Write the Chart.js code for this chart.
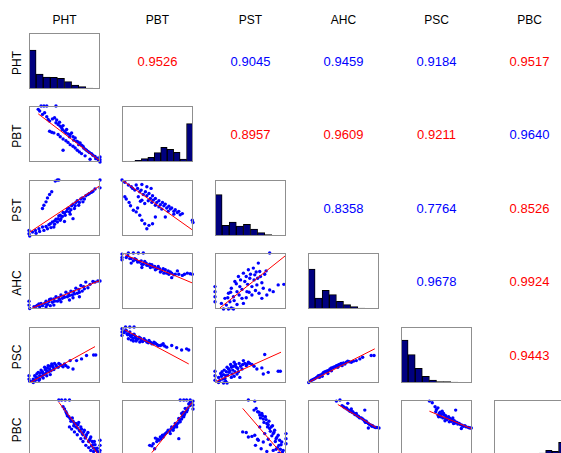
<!DOCTYPE html>
<html>
<head>
<meta charset="utf-8">
<script src="https://cdn.jsdelivr.net/npm/chart.js@4.4.0/dist/chart.umd.min.js"></script>
<style>
  body { margin: 0; width: 561px; height: 453px; overflow: hidden; background: #fff; position: relative;
         font-family: "Liberation Sans", Arial, sans-serif; }
  canvas { position: absolute; }
  .lbl { position: absolute; font-size: 12px; line-height: 12px; color: #000; white-space: nowrap; }
  .corr { position: absolute; font-size: 13px; line-height: 13px; white-space: nowrap; }
</style>
</head>
<body>
<script>
  const names = ['PHT', 'PBT', 'PST', 'AHC', 'PSC', 'PBC']

  // histogram bar heights (all panels share one height scale, panel top = 168)
  const histPHT = [117, 45, 36, 35, 32, 22, 12, 7, 3, 2]
  const histPBT = [0, 2, 5, 10, 14, 28, 44, 38, 29, 9, 115]
  const histPST = [124, 32, 42, 30, 35, 21, 10, 4, 1, 0]
  const histAHC = [120, 33, 56, 43, 23, 13, 7, 3, 1, 0]
  const histPSC = [129, 85, 44, 20, 9, 4, 4, 3, 2, 2]
  const histPBC = [0, 0, 0, 0, 0, 1, 3, 9, 17, 14, 41]

  // signed correlation coefficients, upper triangle, row by row
  const corrPHT = [-0.9526, 0.9045, 0.9459, 0.9184, -0.9517]
  const corrPBT = [-0.8957, -0.9609, -0.9211, 0.9640]
  const corrPST = [0.8358, 0.7764, -0.8526]
  const corrAHC = [0.9678, -0.9924]
  const corrPSC = [-0.9443]

  // scatter points, each panel scaled 0..1 on both axes  [x, y]
  const pbtPht = [[0.13,0.94],[0.15,0.91],[0.17,1.0],[0.21,1.0],[0.25,1.0],[0.38,1.0],[0.19,0.85],[0.25,0.81],
    [0.29,0.73],[0.36,0.79],[0.39,0.75],[0.41,0.67],[0.43,0.71],[0.46,0.61],[0.48,0.65],[0.50,0.55],[0.53,0.58],
    [0.58,0.49],[0.60,0.52],[0.65,0.43],[0.67,0.37],[0.72,0.34],[0.76,0.28],[0.79,0.23],[0.83,0.19],[0.88,0.15],
    [0.93,0.10],[0.96,0.07],[1.0,0.04],[1.0,0.0],[1.0,0.09],[0.29,0.55],[0.35,0.52],[0.41,0.49],[0.48,0.41],
    [0.55,0.35],[0.62,0.28],[0.68,0.21],[0.74,0.15],[0.79,0.11],[0.48,0.21],[0.86,0.05],
    [0.33,0.77],[0.38,0.70],[0.44,0.64],[0.47,0.58],[0.52,0.52],[0.55,0.50],[0.57,0.45],[0.62,0.45],[0.63,0.39],
    [0.69,0.36],[0.70,0.31],[0.74,0.30],[0.77,0.25],[0.81,0.21],[0.85,0.17],[0.90,0.12],[0.94,0.06],[0.32,0.53],
    [0.44,0.45],[0.52,0.38],[0.58,0.31],[0.65,0.25],[0.71,0.18],[0.98,0.03],[0.22,0.88],[0.27,0.76]]
  const pstPht = [[0,0.10],[0,0.04],[0.01,0],[0.05,0.07],[0.09,0.10],[0.14,0.13],[0.19,0.16],[0.21,0.10],[0.26,0.13],
    [0.28,0.20],[0.33,0.25],[0.35,0.16],[0.38,0.30],[0.40,0.25],[0.42,0.36],[0.45,0.31],[0.48,0.42],[0.51,0.37],
    [0.54,0.48],[0.57,0.43],[0.60,0.54],[0.64,0.49],[0.66,0.60],[0.70,0.55],[0.73,0.66],[0.76,0.61],[0.80,0.72],
    [0.85,0.76],[0.90,0.80],[0.50,0.26],[0.62,0.31],[0.19,0.49],[0.21,0.55],[0.24,0.61],[0.26,0.68],[0.29,0.74],
    [0.32,0.79],[0.37,0.98],[0.40,1.0],[0.42,1.0],[1.0,1.0],[1.0,0.86],
    [0.30,0.22],[0.36,0.27],[0.41,0.31],[0.44,0.37],[0.47,0.35],[0.50,0.41],[0.53,0.44],[0.56,0.50],[0.59,0.47],
    [0.62,0.57],[0.65,0.54],[0.68,0.63],[0.71,0.60],[0.75,0.68],[0.78,0.66],[0.83,0.74],[0.88,0.78],[0.93,0.84],
    [0.10,0.05],[0.15,0.08],[0.24,0.17],[0.31,0.15],[0.44,0.28],[0.36,0.21],[0.58,0.39]]
  const pstPbt = [[0,1.0],[0.04,0.96],[0.09,0.91],[0.13,0.88],[0.20,0.91],[0.28,0.92],[0.35,0.88],[0.41,0.85],
    [0.18,0.82],[0.25,0.79],[0.30,0.74],[0.35,0.72],[0.40,0.67],[0.44,0.64],[0.49,0.60],[0.54,0.56],[0.59,0.54],
    [0.63,0.50],[0.68,0.48],[0.73,0.44],[0.78,0.42],[0.82,0.38],[0.23,0.70],[0.28,0.64],[0.32,0.58],[0.04,0.70],
    [0.06,0.66],[0.12,0.54],[0.16,0.46],[0.20,0.43],[0.25,0.37],[0.28,0.28],[0.32,0.22],[0.38,0.19],[0.43,0.22],
    [0.35,0.13],[0.47,0.34],[0.61,0.34],[0.99,0.28],[1.0,0.24],
    [0.15,0.85],[0.22,0.85],[0.27,0.82],[0.33,0.79],[0.38,0.76],[0.43,0.72],[0.47,0.67],[0.52,0.63],[0.57,0.60],
    [0.61,0.57],[0.66,0.53],[0.70,0.50],[0.75,0.47],[0.80,0.44],[0.85,0.40],[0.42,0.60],[0.37,0.63],[0.47,0.55],
    [0.52,0.52],[0.56,0.48],[0.65,0.44],[0.73,0.39],[0.26,0.62],[0.10,0.60],[0.22,0.50]]
  const ahcPht = [[0,0.14],[0,0.07],[0.01,0.01],[0.07,0.04],[0.12,0.07],[0.17,0.10],[0.19,0.06],[0.24,0.14],
    [0.26,0.08],[0.31,0.18],[0.33,0.12],[0.38,0.22],[0.40,0.14],[0.45,0.25],[0.47,0.19],[0.52,0.30],[0.54,0.22],
    [0.59,0.32],[0.61,0.25],[0.66,0.37],[0.68,0.28],[0.73,0.42],[0.75,0.32],[0.80,0.48],[0.83,0.38],[0.90,0.49],
    [0.97,0.50],[1.0,0.50],[0.24,0.04],[0.35,0.07],[0.57,0.16],[0.71,0.22],
    [0.10,0.05],[0.14,0.09],[0.22,0.10],[0.28,0.13],[0.29,0.17],[0.35,0.18],[0.36,0.14],[0.42,0.20],[0.43,0.17],
    [0.49,0.23],[0.50,0.21],[0.56,0.27],[0.57,0.24],[0.63,0.31],[0.64,0.27],[0.70,0.35],[0.71,0.30],[0.77,0.40],
    [0.78,0.36],[0.86,0.44],[0.93,0.48],[0.15,0.04],[0.30,0.06],[0.45,0.13],[0.62,0.20]]
  const ahcPbt = [[0,0.98],[0,0.92],[0,0.88],[0.09,1.0],[0.16,1.0],[0.23,1.0],[0.30,1.0],[0.06,0.92],[0.11,0.90],
    [0.16,0.86],[0.20,0.88],[0.25,0.84],[0.30,0.80],[0.32,0.85],[0.37,0.78],[0.42,0.79],[0.44,0.75],[0.49,0.72],
    [0.51,0.76],[0.56,0.68],[0.61,0.70],[0.63,0.64],[0.68,0.66],[0.73,0.61],[0.78,0.68],[0.80,0.62],[0.85,0.60],
    [0.92,0.64],[0.99,0.62],[0.70,0.56],[0.13,0.82],[0.28,0.74],
    [0.08,0.95],[0.13,0.90],[0.18,0.90],[0.22,0.84],[0.27,0.86],[0.28,0.80],[0.34,0.82],[0.35,0.78],[0.39,0.80],
    [0.40,0.74],[0.46,0.76],[0.47,0.70],[0.53,0.72],[0.54,0.66],[0.58,0.72],[0.59,0.64],[0.65,0.68],[0.66,0.62],
    [0.70,0.64],[0.75,0.62],[0.88,0.62],[0.96,0.63]]
  const ahcPst = [[0,0.40],[0,0.31],[0,0.22],[0,0.13],[0.12,0],[0.19,0],[0.26,0],[0.09,0.10],[0.14,0.19],[0.16,0.07],
    [0.19,0.28],[0.21,0.13],[0.23,0.37],[0.26,0.22],[0.28,0.49],[0.31,0.31],[0.33,0.58],[0.35,0.40],[0.38,0.19],
    [0.40,0.64],[0.42,0.49],[0.45,0.31],[0.47,0.70],[0.49,0.55],[0.52,0.25],[0.54,0.73],[0.56,0.61],[0.59,0.43],
    [0.61,0.82],[0.63,0.67],[0.66,0.19],[0.68,0.37],[0.73,0.25],[0.77,1.0],[0.77,0.34],[0.82,0.31],[0.89,0.43],
    [0.97,0.44],[0.40,0.10],[0.23,0.02],
    [0.30,0.45],[0.36,0.52],[0.38,0.35],[0.44,0.58],[0.46,0.44],[0.50,0.62],[0.52,0.40],[0.55,0.52],[0.58,0.66],
    [0.60,0.55],[0.64,0.58],[0.66,0.47],[0.70,0.62],[0.48,0.30],[0.34,0.25],[0.27,0.15],[0.31,0.08],[0.44,0.20],
    [0.57,0.33],[0.62,0.28],[0.72,0.68],[0.18,0.20],[0.22,0.30]]
  const pscPht = [[0,0.13],[0,0.07],[0.01,0.03],[0.06,0.07],[0.08,0.13],[0.10,0.10],[0.13,0.19],[0.15,0.13],
    [0.17,0.23],[0.20,0.17],[0.22,0.28],[0.25,0.22],[0.27,0.31],[0.29,0.25],[0.32,0.34],[0.34,0.28],[0.36,0.35],
    [0.39,0.29],[0.42,0.35],[0.46,0.31],[0.50,0.34],[0.55,0.28],[0.58,0.40],[0.62,0.25],[0.67,0.40],[0.74,0.43],
    [0.81,0.49],[0.91,0.50],[0.94,0.50],[0.15,0.07],[0.25,0.13],[0.06,0.01],
    [0.05,0.03],[0.09,0.05],[0.11,0.16],[0.12,0.09],[0.14,0.05],[0.16,0.18],[0.18,0.12],[0.19,0.20],[0.21,0.15],
    [0.23,0.24],[0.24,0.18],[0.26,0.27],[0.28,0.20],[0.30,0.30],[0.31,0.22],[0.33,0.31],[0.35,0.24],[0.38,0.32],
    [0.41,0.28],[0.44,0.33],[0.20,0.09],[0.30,0.15],[0.48,0.29],[0.52,0.31]]
  const pscPbt = [[0,0.97],[0,0.91],[0,0.85],[0.05,1.0],[0.11,1.0],[0.17,1.0],[0.04,0.93],[0.07,0.88],[0.11,0.91],
    [0.13,0.83],[0.17,0.87],[0.20,0.79],[0.24,0.82],[0.27,0.76],[0.31,0.79],[0.35,0.73],[0.38,0.76],[0.42,0.70],
    [0.45,0.73],[0.49,0.69],[0.54,0.67],[0.58,0.70],[0.63,0.64],[0.70,0.67],[0.77,0.63],[0.84,0.59],[0.91,0.61],
    [0.94,0.59],[0.09,0.79],[0.16,0.75],
    [0.03,0.90],[0.06,0.94],[0.08,0.86],[0.10,0.87],[0.12,0.84],[0.15,0.86],[0.16,0.80],[0.19,0.83],[0.22,0.78],
    [0.26,0.80],[0.29,0.74],[0.33,0.76],[0.37,0.72],[0.40,0.73],[0.44,0.70],[0.47,0.71],[0.51,0.67],[0.56,0.68],
    [0.60,0.66],[0.13,0.77],[0.20,0.75],[0.25,0.73]]
  const pscPst = [[0,0.21],[0,0.13],[0,0.05],[0.05,0.01],[0.12,0],[0.17,0],[0.05,0.10],[0.08,0.17],[0.11,0.07],
    [0.13,0.23],[0.15,0.13],[0.17,0.28],[0.20,0.19],[0.22,0.33],[0.25,0.23],[0.27,0.37],[0.30,0.28],[0.31,0.16],
    [0.34,0.35],[0.38,0.25],[0.40,0.40],[0.44,0.31],[0.47,0.37],[0.52,0.33],[0.59,0.25],[0.66,0.27],[0.68,0.16],
    [0.70,0.51],[0.75,0.19],[0.89,0.21],[0.92,0.21],[0.23,0.10],[0.35,0.10],
    [0.07,0.05],[0.09,0.12],[0.10,0.20],[0.12,0.15],[0.14,0.08],[0.16,0.20],[0.18,0.14],[0.19,0.25],[0.21,0.22],
    [0.23,0.28],[0.24,0.16],[0.26,0.30],[0.28,0.20],[0.29,0.33],[0.32,0.26],[0.33,0.20],[0.36,0.30],[0.39,0.33],
    [0.42,0.35],[0.45,0.33],[0.49,0.35],[0.27,0.12],[0.15,0.03],[0.55,0.30]]
  const pscAhc = [[0.01,0.01],[0.05,0.05],[0.08,0.07],[0.12,0.10],[0.15,0.13],[0.19,0.15],[0.22,0.19],[0.26,0.21],
    [0.30,0.23],[0.33,0.27],[0.36,0.28],[0.40,0.31],[0.44,0.33],[0.47,0.35],[0.52,0.34],[0.56,0.39],[0.61,0.37],
    [0.68,0.40],[0.73,0.43],[0.77,0.46],[0.89,0.49],[0.93,0.49],[0.16,0.10],[0.28,0.17],[0.42,0.28],
    [0.03,0.03],[0.07,0.06],[0.10,0.08],[0.14,0.12],[0.17,0.14],[0.21,0.17],[0.24,0.20],[0.28,0.22],[0.31,0.25],
    [0.35,0.27],[0.38,0.29],[0.42,0.32],[0.46,0.34],[0.50,0.36],[0.54,0.37],[0.58,0.38],[0.64,0.39],[0.20,0.12],
    [0.33,0.22],[0.48,0.31]]
  const pbcPht = [[0.42,1.0],[0.46,1.0],[0.51,1.0],[0.57,1.0],[0.48,0.88],[0.52,0.79],[0.54,0.72],[0.58,0.67],
    [0.61,0.68],[0.64,0.58],[0.66,0.52],[0.70,0.60],[0.71,0.46],[0.73,0.52],[0.75,0.40],[0.78,0.46],[0.80,0.34],
    [0.83,0.42],[0.85,0.28],[0.87,0.34],[0.90,0.20],[0.92,0.26],[0.94,0.13],[0.97,0.07],[1.0,0.28],[1.0,0.19],
    [1.0,0.10],[1.0,0.04],[0.57,0.52],[0.64,0.43],[0.73,0.31],[0.80,0.19],[0.87,0.10],
    [0.50,0.84],[0.53,0.76],[0.56,0.70],[0.59,0.62],[0.62,0.62],[0.63,0.54],[0.66,0.58],[0.68,0.50],[0.69,0.56],
    [0.72,0.44],[0.74,0.48],[0.76,0.38],[0.77,0.43],[0.79,0.32],[0.81,0.38],[0.84,0.26],[0.86,0.31],[0.88,0.18],
    [0.89,0.26],[0.91,0.14],[0.93,0.20],[0.95,0.10],[0.96,0.14],[0.98,0.05],[0.60,0.48],[0.68,0.38],[0.76,0.26],
    [0.84,0.15],[0.91,0.08]]
  const pbcPbt = [[0.82,1.0],[0.87,1.0],[0.91,1.0],[0.96,1.0],[1.0,0.98],[1.0,0.91],[1.0,0.84],[0.94,0.93],[0.89,0.85],
    [0.91,0.79],[0.84,0.76],[0.87,0.70],[0.80,0.67],[0.82,0.61],[0.75,0.58],[0.77,0.52],[0.70,0.52],[0.72,0.46],
    [0.65,0.46],[0.68,0.40],[0.61,0.40],[0.57,0.37],[0.54,0.34],[0.50,0.30],[0.47,0.32],[0.44,0.22],[0.39,0.19],
    [0.46,0.13],[0.80,0.31],
    [0.98,0.95],[0.96,0.90],[0.93,0.86],[0.92,0.82],[0.89,0.78],[0.88,0.74],[0.85,0.71],[0.84,0.66],[0.81,0.64],
    [0.79,0.59],[0.77,0.56],[0.74,0.53],[0.73,0.50],[0.69,0.48],[0.67,0.44],[0.63,0.42],[0.60,0.38],[0.58,0.34],
    [0.55,0.31],[0.52,0.28],[0.49,0.26],[0.42,0.18],[0.96,0.96],[0.86,0.78]]
  const pbcPst = [[0.47,1.0],[0.56,0.98],[0.55,0.82],[0.60,0.79],[0.63,0.73],[0.66,0.76],[0.68,0.66],[0.71,0.70],
    [0.73,0.58],[0.76,0.62],[0.77,0.49],[0.81,0.54],[0.82,0.40],[0.84,0.46],[0.86,0.31],[0.89,0.37],[0.90,0.19],
    [0.94,0.25],[0.95,0.07],[1.0,0.40],[1.0,0.31],[1.0,0.22],[0.39,0.43],[0.44,0.42],[0.47,0.34],[0.56,0.37],
    [0.61,0.28],[0.57,0.19],[0.65,0.13],[0.73,0.08],[0.82,0.10],[0.63,0.52],
    [0.58,0.85],[0.62,0.78],[0.64,0.68],[0.67,0.72],[0.69,0.60],[0.72,0.65],[0.74,0.52],[0.75,0.56],[0.78,0.44],
    [0.79,0.52],[0.80,0.36],[0.83,0.42],[0.85,0.26],[0.87,0.33],[0.88,0.15],[0.91,0.28],[0.92,0.12],[0.93,0.20],
    [0.96,0.10],[0.97,0.02],[0.70,0.40],[0.75,0.30],[0.78,0.20],[0.68,0.25],[0.86,0.12],[0.60,0.30],[0.52,0.35],
    [0.90,0.05]]
  const pbcAhc = [[0.40,0.98],[0.45,1.0],[0.56,0.94],[0.48,0.90],[0.52,0.86],[0.55,0.84],[0.59,0.80],[0.62,0.78],
    [0.66,0.74],[0.69,0.72],[0.73,0.68],[0.77,0.66],[0.80,0.62],[0.83,0.60],[0.87,0.56],[0.91,0.54],[0.95,0.51],
    [1.0,0.50],[0.80,0.82],[0.85,0.50],[0.61,0.84],[0.68,0.76],
    [0.50,0.88],[0.54,0.86],[0.57,0.82],[0.60,0.81],[0.64,0.77],[0.67,0.75],[0.71,0.71],[0.75,0.68],[0.79,0.64],
    [0.82,0.62],[0.85,0.58],[0.89,0.55],[0.93,0.52],[0.97,0.51],[0.63,0.79],[0.72,0.69],[0.81,0.60],[0.90,0.53]]
  const pbcPsc = [[0.40,0.98],[0.44,0.95],[0.48,0.88],[0.52,0.86],[0.49,0.79],[0.54,0.76],[0.58,0.80],[0.56,0.70],
    [0.61,0.73],[0.63,0.67],[0.67,0.70],[0.70,0.64],[0.73,0.68],[0.77,0.61],[0.77,0.82],[0.82,0.58],[0.86,0.55],
    [0.90,0.54],[0.95,0.51],[0.99,0.50],[0.85,0.49],[0.52,0.73],
    [0.50,0.83],[0.55,0.78],[0.53,0.70],[0.57,0.74],[0.59,0.68],[0.60,0.76],[0.63,0.72],[0.65,0.65],[0.66,0.68],
    [0.69,0.67],[0.71,0.62],[0.72,0.65],[0.75,0.63],[0.76,0.59],[0.79,0.60],[0.80,0.57],[0.84,0.56],[0.88,0.53],
    [0.92,0.52],[0.97,0.50],[0.62,0.63],[0.68,0.61],[0.74,0.58]]

  // least squares lines  [x0, y0, x1, y1]
  const fitLines = {
    '1,0': [0.13,0.86,1.0,0.02], '2,0': [0,0.06,1.0,0.90], '2,1': [0,1.0,1.0,0.10],
    '3,0': [0.05,0.02,1.0,0.51], '3,1': [0.04,0.97,1.0,0.46], '3,2': [0.07,0.02,1.0,0.96],
    '4,0': [0.02,0.01,0.93,0.65], '4,1': [0.04,0.95,0.94,0.34], '4,2': [0.02,0.03,0.93,0.55],
    '4,3': [0.02,0.02,0.94,0.61], '5,0': [0.42,0.96,0.98,0.02], '5,1': [0.42,0.06,0.99,0.96],
    '5,2': [0.39,0.85,0.94,0.04], '5,3': [0.42,0.92,0.96,0.51], '5,4': [0.40,0.80,0.99,0.49]
  }

  const hists = [histPHT, histPBT, histPST, histAHC, histPSC, histPBC]
  const corrs = [corrPHT, corrPBT, corrPST, corrAHC, corrPSC]
  const points = {
    '1,0': pbtPht, '2,0': pstPht, '2,1': pstPbt, '3,0': ahcPht, '3,1': ahcPbt, '3,2': ahcPst,
    '4,0': pscPht, '4,1': pscPbt, '4,2': pscPst, '4,3': pscAhc,
    '5,0': pbcPht, '5,1': pbcPbt, '5,2': pbcPst, '5,3': pbcAhc, '5,4': pbcPsc
  }

  const cellW = 71, cellH = 56, pad = 4
  function cellLeft(c) { return Math.round(29 + c * 93) }
  function cellTop(r) { return Math.round(33 + r * 73.4) }

  const boxPlugin = {
    id: 'box',
    afterDraw(chart) {
      const a = chart.chartArea, ctx = chart.ctx
      ctx.save()
      ctx.strokeStyle = '#8f8f8f'
      ctx.lineWidth = 1
      ctx.strokeRect(Math.round(a.left) + 0.5, Math.round(a.top) + 0.5, cellW - 1, cellH - 1)
      ctx.restore()
    }
  }

  function addPanel(r, c, config) {
    const cv = document.createElement('canvas')
    cv.width = cellW + 2 * pad
    cv.height = cellH + 2 * pad
    cv.style.left = (cellLeft(c) - pad) + 'px'
    cv.style.top = (cellTop(r) - pad) + 'px'
    document.body.appendChild(cv)
    config.options = Object.assign({
      responsive: false,
      animation: false,
      devicePixelRatio: 1,
      events: [],
      layout: { padding: pad },
      plugins: { legend: { display: false }, tooltip: { enabled: false } }
    }, config.options)
    config.plugins = [boxPlugin]
    new Chart(cv, config)
  }

  function addText(cls, text, x, y, color, rotate) {
    const d = document.createElement('div')
    d.className = cls
    d.textContent = text
    d.style.left = x + 'px'
    d.style.top = y + 'px'
    d.style.color = color
    d.style.transform = 'translate(-50%,-50%)' + (rotate ? ' rotate(-90deg)' : '')
    document.body.appendChild(d)
  }

  names.forEach((n, i) => {
    addText('lbl', n, cellLeft(i) + cellW / 2, 20, '#000', false)
    addText('lbl', n, 17, cellTop(i) + cellH / 2 + 2, '#000', true)
  })

  for (let r = 0; r < 6; r++) {
    for (let c = 0; c < 6; c++) {
      if (r == c) {
        const h = hists[r]
        addPanel(r, c, {
          type: 'bar',
          data: {
            labels: h.map((v, k) => k),
            datasets: [{
              data: h,
              backgroundColor: '#00007f',
              borderColor: '#000000',
              borderWidth: 1,
              categoryPercentage: 1,
              barPercentage: 1
            }]
          },
          options: {
            scales: {
              x: { display: false },
              y: { display: false, min: 0, max: 168 }
            }
          }
        })
      } else if (c > r) {
        const v = corrs[r][c - r - 1]
        addText('corr', Math.abs(v).toFixed(4), cellLeft(c) + cellW / 2, cellTop(r) + cellH / 2,
          v < 0 ? '#ff0000' : '#0000ff', false)
      } else {
        const key = r + ',' + c
        const f = fitLines[key]
        addPanel(r, c, {
          type: 'scatter',
          data: {
            datasets: [{
              data: [{ x: f[0], y: f[1] }, { x: f[2], y: f[3] }],
              showLine: true,
              borderColor: '#ff0000',
              borderWidth: 1,
              pointRadius: 0,
              order: 0
            }, {
              data: points[key].map(p => ({ x: p[0], y: p[1] })),
              pointRadius: 1.7,
              pointStyle: 'circle',
              backgroundColor: '#0000ff',
              borderWidth: 0,
              clip: false,
              order: 1
            }]
          },
          options: {
            scales: {
              x: { type: 'linear', display: false, min: 0, max: 1 },
              y: { type: 'linear', display: false, min: 0, max: 1 }
            }
          }
        })
      }
    }
  }
</script>
</body>
</html>
